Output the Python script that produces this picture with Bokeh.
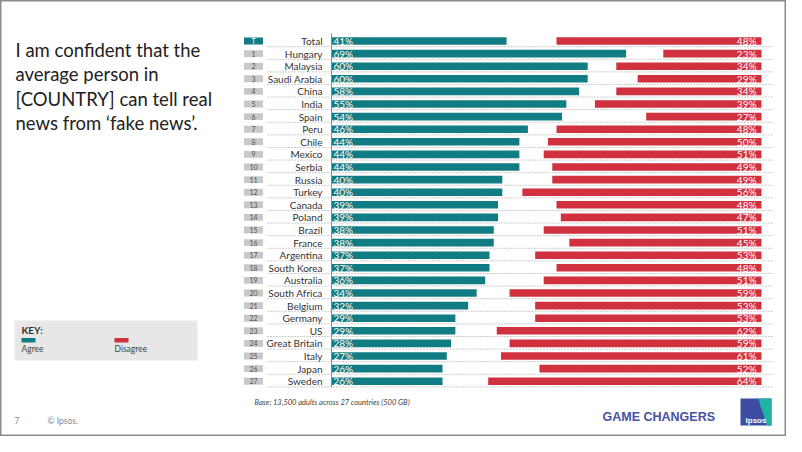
from bokeh.plotting import figure
from bokeh.models import ColumnDataSource, Range1d, Label
from bokeh.core.properties import value
from bokeh.embed import file_html
from bokeh.resources import INLINE

countries = ["Total", "Hungary", "Malaysia", "Saudi Arabia", "China", "India", "Spain", "Peru",
             "Chile", "Mexico", "Serbia", "Russia", "Turkey", "Canada", "Poland", "Brazil",
             "France", "Argentina", "South Korea", "Australia", "South Africa", "Belgium",
             "Germany", "US", "Great Britain", "Italy", "Japan", "Sweden"]
ranks = ["T"] + [str(i) for i in range(1, 28)]
agree = [41, 69, 60, 60, 58, 55, 54, 46, 44, 44, 44, 40, 40, 39, 39, 38, 38, 37, 37, 36, 34,
         32, 29, 29, 28, 27, 26, 26]
disagree = [48, 23, 34, 29, 34, 39, 27, 48, 50, 51, 49, 49, 56, 48, 47, 51, 45, 53, 48, 51, 59,
            53, 53, 62, 59, 61, 52, 64]

TEAL = "#127c84"
RED = "#d1313e"
FONT = "Lato"
W, H = 786, 436

# layout constants (pixels)
X0 = 331.0          # pixel where 0% sits
PX_PER_PCT = 4.27
Y0 = 40.5           # pixel centre of first row
ROW = 12.6          # row spacing
RIGHT_END = 100.7   # disagree bars are right-aligned here (pct units)

p = figure(width=W, height=H, output_backend="svg", toolbar_location=None,
           x_axis_type=None, y_axis_type=None, min_border=0,
           x_range=Range1d(0, W), y_range=Range1d(H, 0))
p.outline_line_color = "#8c8c8c"
p.outline_line_width = 2
p.background_fill_color = "white"
p.border_fill_color = "white"
p.extra_x_ranges = {"pct": Range1d(-X0 / PX_PER_PCT, (W - X0) / PX_PER_PCT)}
p.extra_y_ranges = {"row": Range1d((H - Y0) / ROW, -Y0 / ROW)}

n = len(countries)
rows = list(range(n))
src = ColumnDataSource(dict(
    row=rows, country=countries, rank=ranks, agree=agree, disagree=disagree,
    dis_left=[RIGHT_END - d for d in disagree], dis_right=[RIGHT_END] * n,
    agree_lbl=[f"{a}%" for a in agree], dis_lbl=[f"{d}%" for d in disagree],
    zero=[0] * n,
    box_fill=[TEAL] + ["#c9c9c9"] * (n - 1),
    box_text=["white"] + ["#555555"] * (n - 1),
    sep=[r + 0.45 for r in rows],
))

# dotted separators
p.segment(x0=267, x1=772, y0="sep", y1="sep", source=src, y_range_name="row",
          line_color="#9a9a9a", line_width=1, line_dash="1 2")

# bars
p.hbar(y="row", left="zero", right="agree", height=0.6, source=src,
       x_range_name="pct", y_range_name="row", fill_color=TEAL, line_color=None)
p.hbar(y="row", left="dis_left", right="dis_right", height=0.6, source=src,
       x_range_name="pct", y_range_name="row", fill_color=RED, line_color=None)

# axis line
p.segment(x0=[0], x1=[0], y0=[-0.6], y1=[27.5], x_range_name="pct", y_range_name="row",
          line_color="#8a8a8a", line_width=1)

# value labels
p.text(x="zero", y="row", text="agree_lbl", source=src, x_range_name="pct", y_range_name="row",
       x_offset=2, text_align="left", text_baseline="middle", text_color="white",
       text_font=value(FONT), text_font_size="10px")
p.text(x="dis_right", y="row", text="dis_lbl", source=src, x_range_name="pct", y_range_name="row",
       x_offset=-5, text_align="right", text_baseline="middle", text_color="white",
       text_font=value(FONT), text_font_size="10px")

# country labels
p.text(x=322, y="row", text="country", source=src, y_range_name="row",
       text_align="right", text_baseline="middle", text_color="#333333",
       text_font=value(FONT), text_font_size="10px")

# rank boxes
p.rect(x=253, y="row", width=19, height=0.55, source=src, y_range_name="row",
       fill_color="box_fill", line_color=None)
p.text(x=253, y="row", text="rank", source=src, y_range_name="row",
       text_align="center", text_baseline="middle", text_color="box_text",
       text_font=value(FONT), text_font_size="7px")

# title
title_lines = ["I am confident that the", "average person in",
               "[COUNTRY] can tell real", "news from \u2018fake news\u2019."]
for i, t in enumerate(title_lines):
    p.add_layout(Label(x=15, y=49 + i * 24.5, text=t, text_font=FONT, text_font_size="18.5px",
                       text_color="#222222", text_baseline="middle", text_align="left"))

# key box
p.quad(left=[14], right=[197], top=[320], bottom=[360], fill_color="#e7e7e7", line_color=None)
p.add_layout(Label(x=21, y=329, text="KEY:", text_font=FONT, text_font_size="10px",
                   text_font_style="bold", text_color="#333333", text_baseline="middle"))
p.quad(left=[21], right=[35], top=[337.5], bottom=[342], fill_color=TEAL, line_color=None)
p.quad(left=[114], right=[128], top=[337.5], bottom=[342], fill_color=RED, line_color=None)
p.add_layout(Label(x=21, y=348, text="Agree", text_font=FONT, text_font_size="8.5px",
                   text_color="#444444", text_baseline="middle"))
p.add_layout(Label(x=114, y=348, text="Disagree", text_font=FONT, text_font_size="8.5px",
                   text_color="#444444", text_baseline="middle"))

# footer
p.add_layout(Label(x=254, y=402, text="Base: 13,500 adults across 27 countries (500 GB)",
                   text_font=FONT, text_font_size="7.5px", text_font_style="italic",
                   text_color="#444444", text_baseline="middle"))
p.add_layout(Label(x=14, y=420, text="7", text_font=FONT, text_font_size="8.5px",
                   text_color="#888888", text_baseline="middle"))
p.add_layout(Label(x=47, y=420, text="\u00a9  Ipsos.", text_font=FONT, text_font_size="8.5px",
                   text_color="#888888", text_baseline="middle"))
p.add_layout(Label(x=602, y=416, text="GAME CHANGERS", text_font="Liberation Sans",
                   text_font_size="12.5px", text_font_style="bold", text_color="#4752a0",
                   text_baseline="middle"))

# logo
p.quad(left=[740], right=[771], top=[398], bottom=[425], fill_color="#3b4ca2", line_color=None)
p.patch(x=[758, 771, 771, 766, 763, 760], y=[398, 398, 425, 425, 414, 406],
        fill_color="#1fb3a6", line_color=None)
p.add_layout(Label(x=755.5, y=420, text="Ipsos", text_font="Liberation Sans",
                   text_font_size="8px", text_font_style="bold", text_color="white",
                   text_baseline="middle", text_align="center"))

open("out.html", "w").write(file_html(p, INLINE))
